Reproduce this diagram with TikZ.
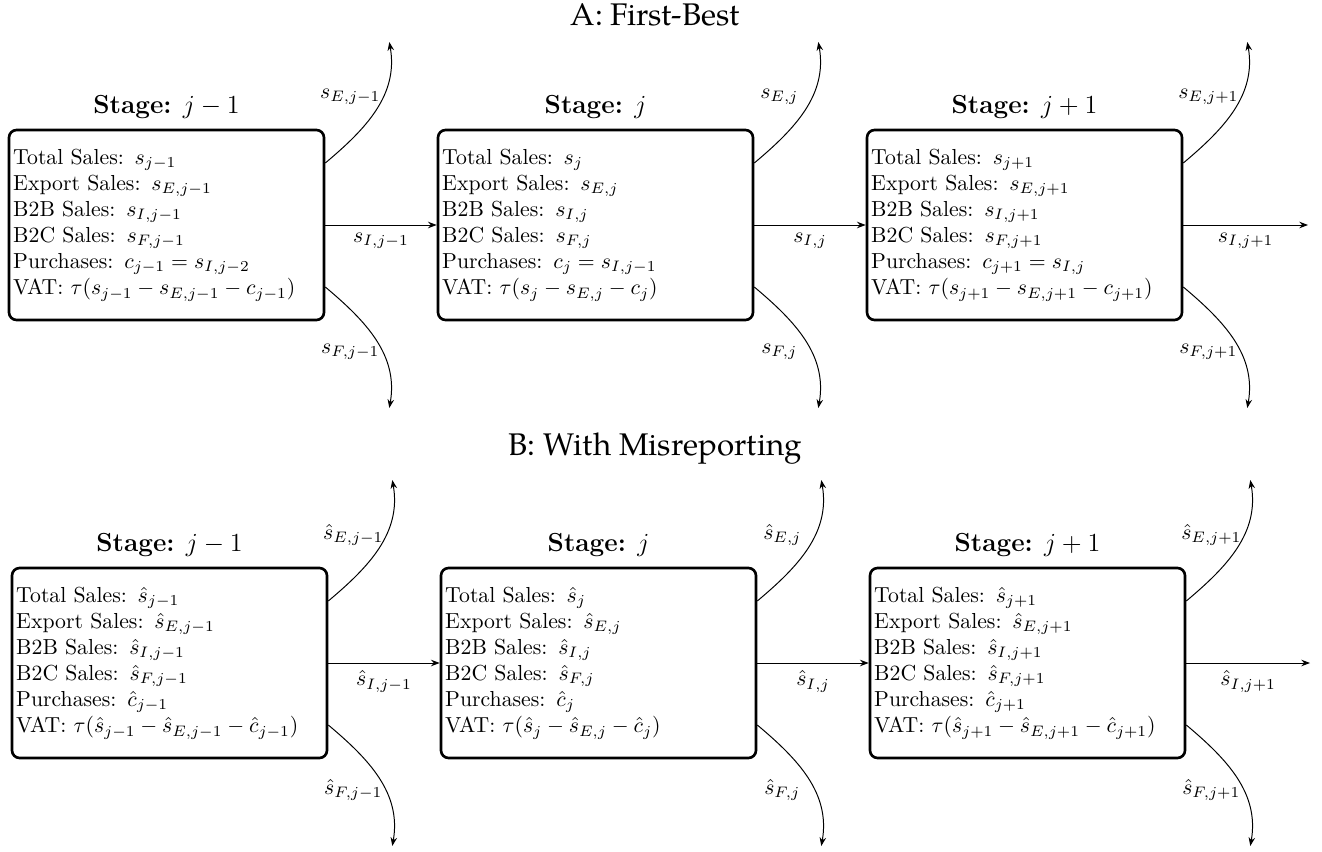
\documentclass[tikz,border=0pt]{standalone}
\usepackage{fontspec}
\newfontfamily\titlefont{texgyrepagella-regular.otf}
\usetikzlibrary{arrows.meta,calc}
\begin{document}
\begin{tikzpicture}[x=0.46pt,y=0.46pt,
  stagebox/.style={draw, line width=1.2pt, rounded corners=3.5pt, minimum width=144.9pt, minimum height=87.4pt, text width=141pt, align=left, inner sep=1.9pt},
  stagetitle/.style={font=\large},
  flow/.style={-{Stealth[length=4pt,width=3pt]}, line width=0.45pt},
  sectitle/.style={font=\titlefont\Large}]
\useasboundingbox (0,0) rectangle (1322,-852);

% ---------- Panel A ----------
\node[sectitle] (tA) at (655,-15) {A: First-Best};

\node[stagebox] (a1) at (166.5,-225) {Total Sales: $s_{j-1}$\\ Export Sales: $s_{E,j-1}$\\ B2B Sales: $s_{I,j-1}$\\ B2C Sales: $s_{F,j-1}$\\ Purchases: $c_{j-1}=s_{I,j-2}$\\ VAT: $\tau(s_{j-1}-s_{E,j-1}-c_{j-1})$};
\node[stagebox] (a2) at (595.5,-225) {Total Sales: $s_{j}$\\ Export Sales: $s_{E,j}$\\ B2B Sales: $s_{I,j}$\\ B2C Sales: $s_{F,j}$\\ Purchases: $c_{j}=s_{I,j-1}$\\ VAT: $\tau(s_{j}-s_{E,j}-c_{j})$};
\node[stagebox] (a3) at (1024.5,-225) {Total Sales: $s_{j+1}$\\ Export Sales: $s_{E,j+1}$\\ B2B Sales: $s_{I,j+1}$\\ B2C Sales: $s_{F,j+1}$\\ Purchases: $c_{j+1}=s_{I,j}$\\ VAT: $\tau(s_{j+1}-s_{E,j+1}-c_{j+1})$};

\node[stagetitle] (ta1) at (166.5,-107) {\textbf{Stage:} $j-1$};
\node[stagetitle] (ta2) at (595.5,-107) {\textbf{Stage:} $j$};
\node[stagetitle] (ta3) at (1024.5,-107) {\textbf{Stage:} $j+1$};

\coordinate (a3o) at (1308,-225);
\draw[flow] (a1) -- (a2) node[midway,below] (la1) {$s_{I,j-1}$};
\draw[flow] (a2) -- (a3) node[midway,below] (la2) {$s_{I,j}$};
\draw[flow] (a3) -- (a3o) node[midway,below] (la3) {$s_{I,j+1}$};

\foreach \b/\lab in {a1/{j-1}, a2/{j}, a3/{j+1}}{
  \coordinate (\b up) at ($(\b.east)+(64,183)$);
  \coordinate (\b dn) at ($(\b.east)+(64,-183)$);
  \draw[flow] ($(\b.east)+(0,62)$) to[out=40,in=-80] (\b up);
  \draw[flow] ($(\b.east)+(0,-62)$) to[out=-40,in=80] (\b dn);
  \node (\b E) at ($(\b.east)+(25,128)$) {$s_{E,\lab}$};
  \node (\b F) at ($(\b.east)+(25,-127)$) {$s_{F,\lab}$};
}

% ---------- Panel B ----------
\node[sectitle] (tB) at (655,-449) {B: With Misreporting};

\node[stagebox] (b1) at (169.5,-663) {Total Sales: $\hat{s}_{j-1}$\\ Export Sales: $\hat{s}_{E,j-1}$\\ B2B Sales: $\hat{s}_{I,j-1}$\\ B2C Sales: $\hat{s}_{F,j-1}$\\ Purchases: $\hat{c}_{j-1}$\\ VAT: $\tau(\hat{s}_{j-1}-\hat{s}_{E,j-1}-\hat{c}_{j-1})$};
\node[stagebox] (b2) at (598.5,-663) {Total Sales: $\hat{s}_{j}$\\ Export Sales: $\hat{s}_{E,j}$\\ B2B Sales: $\hat{s}_{I,j}$\\ B2C Sales: $\hat{s}_{F,j}$\\ Purchases: $\hat{c}_{j}$\\ VAT: $\tau(\hat{s}_{j}-\hat{s}_{E,j}-\hat{c}_{j})$};
\node[stagebox] (b3) at (1027.5,-663) {Total Sales: $\hat{s}_{j+1}$\\ Export Sales: $\hat{s}_{E,j+1}$\\ B2B Sales: $\hat{s}_{I,j+1}$\\ B2C Sales: $\hat{s}_{F,j+1}$\\ Purchases: $\hat{c}_{j+1}$\\ VAT: $\tau(\hat{s}_{j+1}-\hat{s}_{E,j+1}-\hat{c}_{j+1})$};

\node[stagetitle] (tb1) at (169.5,-545) {\textbf{Stage:} $j-1$};
\node[stagetitle] (tb2) at (598.5,-545) {\textbf{Stage:} $j$};
\node[stagetitle] (tb3) at (1027.5,-545) {\textbf{Stage:} $j+1$};

\coordinate (b3o) at (1310,-663);
\draw[flow] (b1) -- (b2) node[midway,below] (lb1) {$\hat{s}_{I,j-1}$};
\draw[flow] (b2) -- (b3) node[midway,below] (lb2) {$\hat{s}_{I,j}$};
\draw[flow] (b3) -- (b3o) node[midway,below] (lb3) {$\hat{s}_{I,j+1}$};

\foreach \b/\lab in {b1/{j-1}, b2/{j}, b3/{j+1}}{
  \coordinate (\b up) at ($(\b.east)+(64,183)$);
  \coordinate (\b dn) at ($(\b.east)+(64,-183)$);
  \draw[flow] ($(\b.east)+(0,62)$) to[out=40,in=-80] (\b up);
  \draw[flow] ($(\b.east)+(0,-62)$) to[out=-40,in=80] (\b dn);
  \node (\b E) at ($(\b.east)+(25,128)$) {$\hat{s}_{E,\lab}$};
  \node (\b F) at ($(\b.east)+(25,-127)$) {$\hat{s}_{F,\lab}$};
}
\end{tikzpicture}
\end{document}
